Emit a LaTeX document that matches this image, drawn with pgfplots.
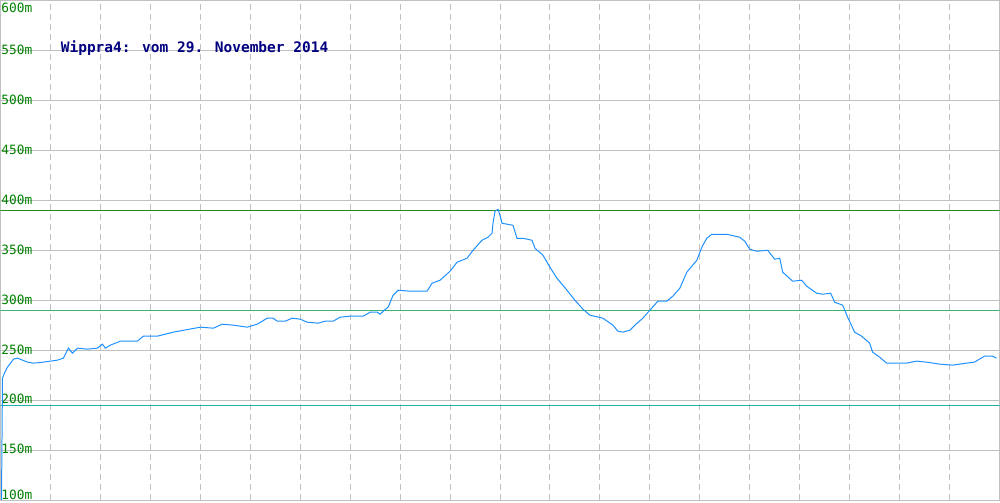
\documentclass[border=0pt]{standalone}
\usepackage{pgfplots}
\pgfplotsset{compat=1.18}
\usepackage{fontspec}
\newfontfamily\monofont{DejaVu Sans Mono}
\definecolor{gridgray}{HTML}{C0C0C0}
\definecolor{tickgreen}{HTML}{008000}
\definecolor{linblue}{HTML}{1E90FF}
\definecolor{topgreen}{HTML}{228B22}
\definecolor{midgreen}{HTML}{3CB371}
\definecolor{lowteal}{HTML}{20B2AA}
\definecolor{titlenavy}{HTML}{000080}
\begin{document}
\begin{tikzpicture}
  \begin{axis}[
      width=500pt, height=250pt, scale only axis,
      xmin=0, xmax=1000, ymin=100, ymax=600,
      axis line style={gridgray, line width=0.5pt},
      xtick={50,100,...,950}, xticklabels={},
      xticklabel style={inner sep=0pt, font=\tiny},
      ytick={100,150,...,600},
      major tick length=0pt,
      xmajorgrids, ymajorgrids,
      x grid style={gridgray, line width=0.5pt, dash pattern=on 3pt off 2pt},
      y grid style={gridgray, line width=0.5pt},
      yticklabel={\pgfmathprintnumber[fixed,precision=0]{\tick}m},
      yticklabel style={anchor=west, inner sep=0pt, xshift=0.3pt,
        yshift={ifthenelse(\ticknum==0,2.6,ifthenelse(\ticknum==10,-3.6,0.4))},
        font=\monofont\fontsize{6.4}{7}\selectfont, text=tickgreen},
      /pgf/number format/assume math mode=true,
    ]
    \addplot[topgreen, line width=0.5pt] coordinates {(0,390) (1000,390)};
    \addplot[midgreen, line width=0.5pt] coordinates {(0,290) (1000,290)};
    \addplot[lowteal, line width=0.5pt] coordinates {(0,195) (1000,195)};
    \addplot[linblue, line width=0.5pt] coordinates {
      (1,100) (2,222) (4,227) (7,233) (13,241) (17,242) (27,238) (33,237)
      (43,238) (57,240) (63,242) (68,252) (72,247) (77,252) (87,251)
      (97,252) (102,256) (105,252) (110,255) (120,259) (137,259) (143,264)
      (157,264) (173,268) (200,273) (213,272) (222,276) (233,275) (247,273)
      (257,276) (267,282) (273,282) (277,279) (285,279) (292,282) (300,281)
      (307,278) (318,277) (325,279) (333,279) (340,283) (350,284) (363,284)
      (370,288) (377,288) (380,286) (383,289) (388,293) (393,305) (398,310)
      (410,309) (427,309) (432,317) (440,320) (450,329) (457,338) (467,342)
      (473,350) (482,360) (488,363) (492,367) (493,377) (495,389) (498,391)
      (500,385) (502,377) (513,375) (517,362) (523,362) (532,360) (535,352)
      (543,345) (550,333) (557,322) (567,310) (575,300) (583,291) (590,285)
      (603,282) (613,275) (618,269) (623,268) (630,270) (635,275) (643,282)
      (650,290) (658,299) (667,299) (673,304) (680,312) (687,328) (697,340)
      (702,353) (707,362) (712,366) (727,366) (740,363) (745,359) (750,351)
      (757,349) (768,350) (775,341) (780,342) (783,328) (793,319) (802,320)
      (807,314) (817,307) (823,306) (831,307) (835,298) (843,295) (848,283)
      (855,268) (862,264) (870,257) (873,248) (880,243) (887,237) (907,237)
      (917,239) (927,238) (940,236) (953,235) (967,237) (975,238) (985,244)
      (993,244) (997,242)
    };
    \node[anchor=west, inner sep=0pt, text=titlenavy,
      font=\monofont\bfseries\fontsize{7.25}{9}\selectfont]
      at (axis cs:60,552) {Wippra4: vom 29. November 2014};
  \end{axis}
\end{tikzpicture}
\end{document}
